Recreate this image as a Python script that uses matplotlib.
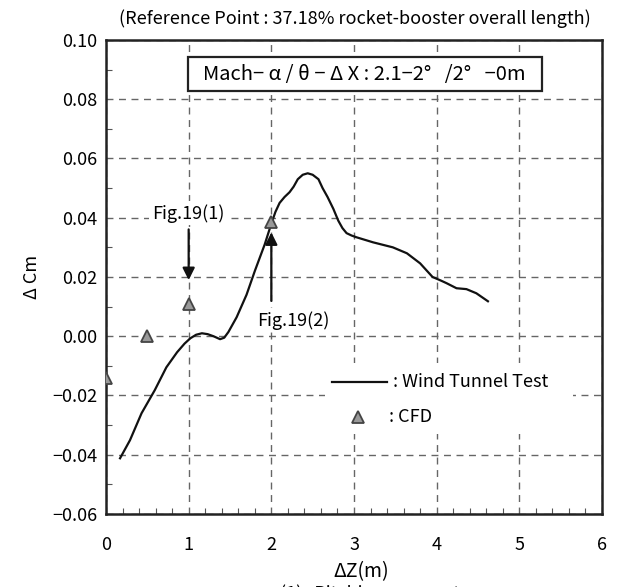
import matplotlib
matplotlib.use("Agg")
import matplotlib.pyplot as plt
from matplotlib.patches import Rectangle
from matplotlib.ticker import MultipleLocator

plt.rcParams['font.family'] = ['Noto Sans CJK JP', 'DejaVu Sans']

# Wind tunnel test curve
wt_dz = [0.17, 0.29, 0.43, 0.59, 0.73, 0.86, 0.95, 1.02, 1.09, 1.16, 1.23, 1.30, 1.38,
         1.43, 1.48, 1.58, 1.70, 1.80, 1.92, 2.00, 2.05, 2.10, 2.16, 2.22, 2.27,
         2.32, 2.38, 2.44, 2.50, 2.57, 2.62, 2.68, 2.75, 2.81, 2.86, 2.91, 2.97,
         3.03, 3.23, 3.47, 3.64, 3.80, 3.95, 4.05, 4.12, 4.24, 4.36, 4.48, 4.62]
wt_dcm = [-0.0412, -0.0351, -0.026, -0.0182, -0.0105, -0.0054, -0.0025, -0.0007,
          0.0005, 0.001, 0.0007, 0.000, -0.001, -0.0005, 0.0014, 0.0064, 0.014,
          0.022, 0.031, 0.038, 0.042, 0.045, 0.047, 0.0486, 0.0505, 0.053, 0.0545,
          0.055, 0.0545, 0.053, 0.050, 0.047, 0.043, 0.039, 0.0365, 0.0348, 0.034,
          0.0334, 0.0317, 0.030, 0.028, 0.0246, 0.020, 0.0188, 0.0179, 0.0162,
          0.0159, 0.0145, 0.0118]

# CFD points
cfd_dz = [0.0, 0.5, 1.0, 2.0]
cfd_dcm = [-0.0142, 0.0, 0.011, 0.0385]

xticks = [0, 1, 2, 3, 4, 5, 6]
yticks = [-0.06, -0.04, -0.02, 0.00, 0.02, 0.04, 0.06, 0.08, 0.10]

fig = plt.figure(figsize=(6.17, 5.87), dpi=100)
ax = fig.add_axes([0.1718, 0.1244, 0.8039, 0.8075])

ax.set_xlim(0, 6)
ax.set_ylim(-0.06, 0.10)
ax.set_xticks(xticks)
ax.set_yticks(yticks)
ax.set_yticklabels([f"{v:.2f}".replace("-", "\u2212") for v in yticks])
ax.xaxis.set_minor_locator(MultipleLocator(0.2))
ax.yaxis.set_minor_locator(MultipleLocator(0.01))
ax.tick_params(axis='both', which='both', direction='in', labelsize=13)
ax.tick_params(which='major', length=0)
ax.tick_params(which='minor', length=4, width=0.8, color='#555555')
ax.tick_params(axis='x', which='major', pad=16)
ax.tick_params(axis='y', which='major', pad=6)
for s in ax.spines.values():
    s.set_linewidth(1.8)
    s.set_color('#222222')

ax.grid(True, which='major', color='#666666', linestyle=(0, (5, 4)), linewidth=1.0)
ax.set_axisbelow(True)

ax.plot(wt_dz, wt_dcm, color='#111111', linewidth=1.6, zorder=3,
        solid_joinstyle='round')
ax.plot(cfd_dz, cfd_dcm, linestyle='none', marker='^', markersize=8,
        markerfacecolor='#999999', markeredgecolor='#444444', markeredgewidth=1.3, zorder=4)

# Arrows
ax.annotate('', xy=(1.0, 0.018), xytext=(1.0, 0.037),
            arrowprops=dict(arrowstyle='-|>', color='#111111', lw=1.6, mutation_scale=18),
            zorder=5)
ax.annotate('', xy=(2.0, 0.036), xytext=(2.0, 0.011),
            arrowprops=dict(arrowstyle='-|>', color='#111111', lw=1.6, mutation_scale=18),
            zorder=5)
ax.text(0.99, 0.0415, 'Fig.19(1)', ha='center', va='center', fontsize=13, zorder=5,
        bbox=dict(facecolor='white', edgecolor='none', pad=2))
ax.text(2.27, 0.0054, 'Fig.19(2)', ha='center', va='center', fontsize=13, zorder=5,
        bbox=dict(facecolor='white', edgecolor='none', pad=2))

# Mach box
ax.add_patch(Rectangle((0.99, 0.0827), 4.28, 0.0115, facecolor='white',
                       edgecolor='#222222', linewidth=1.6, zorder=6))
ax.text(3.13, 0.08845, 'Mach\u2212 \u03b1 / \u03b8 \u2212 \u0394 X : 2.1\u22122\u00b0   /2\u00b0   \u22120m',
        ha='center', va='center', fontsize=14.5, zorder=7)

# Legend
ax.add_patch(Rectangle((2.65, -0.033), 3.0, 0.024, facecolor='white',
                       edgecolor='none', zorder=2))
ax.plot([2.73, 3.40], [-0.0155, -0.0155], color='#111111', linewidth=1.6, zorder=3)
ax.text(3.47, -0.0155, ': Wind Tunnel Test', ha='left', va='center', fontsize=13, zorder=3)
ax.plot([3.05], [-0.0273], linestyle='none', marker='^', markersize=8,
        markerfacecolor='#999999', markeredgecolor='#444444', markeredgewidth=1.3, zorder=4)
ax.text(3.42, -0.0273, ': CFD', ha='left', va='center', fontsize=13, zorder=3)

ax.set_ylabel('\u0394 Cm', fontsize=13, labelpad=8)
fig.text(0.585, 0.027, '\u0394Z(m)', ha='center', va='center', fontsize=14)
fig.text(0.5718 + 0.004, 0.968, '(Reference Point : 37.18% rocket-booster overall length)',
         ha='center', va='center', fontsize=13)
fig.text(0.60, -0.012, '(1)   Pitching moment', ha='center', va='center', fontsize=13)

fig.savefig('out.png', dpi=100)
